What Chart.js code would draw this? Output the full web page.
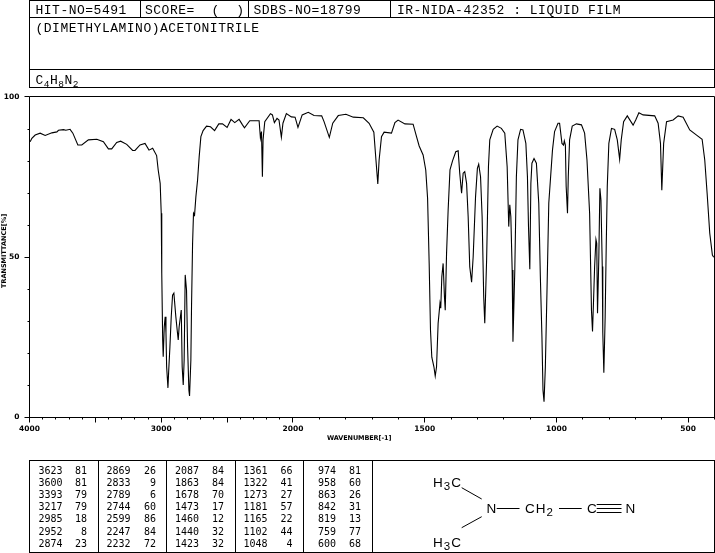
<!DOCTYPE html>
<html>
<head>
<meta charset="utf-8">
<title>IR spectrum</title>
<script src="https://cdn.jsdelivr.net/npm/chart.js@4/dist/chart.umd.min.js"></script>
<style>
  html, body { margin: 0; padding: 0; background: #fff; }
  #wrap { position: relative; width: 715px; height: 553px; overflow: hidden; }
  #spectrum { position: absolute; left: 0; top: 0; }
  #overlay { position: absolute; left: 0; top: 0; pointer-events: none; }
  .frame { fill: none; stroke: #000; stroke-width: 1; shape-rendering: crispEdges; }
  .bond { stroke: #000; stroke-width: 1; }
  .head { font: 13px "Liberation Mono", monospace; letter-spacing: 0.5px; white-space: pre; }
  .num { font: 10px "DejaVu Sans Mono", monospace; text-anchor: end; }
  .axis { font: bold 6.5px "DejaVu Sans", sans-serif; }
  .atom { font: 13.5px "Liberation Sans", sans-serif; letter-spacing: 1px; }
</style>
</head>
<body>
<div id="wrap">
  <canvas id="spectrum" width="715" height="553"></canvas>
  <svg id="overlay" width="715" height="553" xmlns="http://www.w3.org/2000/svg"></svg>
</div>
<script>
/******************************************************************
DATA
******************************************************************/
var wavenumbers = [
  3995, 3982, 3957, 3919, 3881, 3830, 3792, 3780, 3742, 3724, 3692, 3671, 3633, 3603, 3553, 3489,
  3439, 3401, 3376, 3338, 3308, 3262, 3217, 3199, 3161, 3123, 3093, 3065, 3035, 3023, 3008, 3000,
  2997, 2995, 2989, 2985, 2977, 2970, 2964, 2959, 2949, 2944, 2934, 2924, 2914, 2904, 2889, 2879,
  2871, 2864, 2848, 2841, 2833, 2826, 2818, 2808, 2800, 2790, 2785, 2775, 2770, 2762, 2755, 2747,
  2737, 2724, 2712, 2699, 2682, 2656, 2626, 2595, 2563, 2535, 2500, 2470, 2442, 2409, 2383, 2368,
  2328, 2257, 2247, 2239, 2232, 2227, 2214, 2171, 2156, 2141, 2121, 2106, 2088, 2076, 2050, 2012,
  1992, 1981, 1965, 1942, 1920, 1891, 1882, 1862, 1849, 1828, 1799, 1771, 1733, 1711, 1693, 1685,
  1678, 1673, 1664, 1654, 1626, 1613, 1601, 1575, 1544, 1531, 1521, 1506, 1496, 1489, 1483, 1478,
  1473, 1465, 1460, 1455, 1449, 1442, 1439, 1435, 1430, 1425, 1422, 1417, 1411, 1404, 1394, 1382,
  1373, 1367, 1360, 1354, 1348, 1341, 1335, 1329, 1322, 1316, 1307, 1300, 1295, 1288, 1282, 1276,
  1272, 1265, 1258, 1253, 1240, 1225, 1209, 1196, 1187, 1181, 1177, 1173, 1168, 1165, 1158, 1152,
  1146, 1136, 1127, 1116, 1110, 1106, 1101, 1097, 1093, 1085, 1076, 1067, 1061, 1055, 1051, 1047,
  1042, 1036, 1029, 1015, 1007, 994, 988, 979, 973, 970, 966, 963, 958, 955, 950, 940,
  924, 905, 893, 884, 874, 867, 863, 859, 855, 850, 847, 844, 839, 835, 831, 826,
  824, 820, 815, 811, 807, 801, 791, 779, 769, 760, 754, 745, 731, 709, 699, 687,
  671, 627, 614, 605, 600, 593, 582, 557, 538, 519, 494, 468, 447, 437, 428, 418,
  408, 403
];
var transmittance = [
  86.0, 87.1, 88.1, 88.7, 88.0, 88.8, 89.1, 89.6, 89.8, 89.6, 89.9, 88.7, 85.0, 85.0, 86.6, 86.8,
  86.0, 83.8, 83.8, 85.8, 86.2, 85.2, 83.3, 83.3, 85.0, 85.5, 83.4, 84.0, 81.7, 77.2, 73.0, 63.7,
  50.1, 45.0, 24.1, 18.8, 28.2, 31.3, 26.3, 15.7, 9.1, 13.8, 22.0, 31.3, 38.1, 38.7, 31.3, 27.2,
  24.1, 28.2, 33.4, 15.7, 10.0, 17.8, 44.4, 39.7, 22.0, 8.4, 6.6, 17.8, 34.5, 54.3, 63.7, 63.1,
  68.8, 74.1, 81.3, 87.6, 89.5, 90.9, 90.7, 89.5, 91.6, 91.6, 90.5, 93.0, 92.0, 93.0, 91.3, 90.4,
  92.6, 92.6, 87.2, 89.2, 75.1, 86.6, 92.3, 94.8, 94.4, 92.0, 93.3, 92.8, 87.4, 91.8, 94.8, 93.8,
  93.7, 90.5, 94.4, 95.2, 94.2, 94.1, 92.3, 87.4, 91.8, 94.2, 94.6, 93.7, 93.5, 91.8, 89.0, 80.3,
  72.8, 80.3, 87.6, 89.0, 88.7, 92.0, 92.8, 91.6, 91.5, 87.6, 84.7, 81.9, 77.2, 68.3, 48.0, 27.2,
  18.7, 15.7, 12.8, 15.7, 29.3, 35.5, 34.0, 43.8, 48.0, 37.6, 33.4, 51.2, 64.7, 77.2, 80.1, 82.9,
  83.2, 76.2, 69.9, 76.2, 76.7, 73.0, 62.6, 47.0, 42.1, 50.1, 68.8, 77.7, 79.0, 75.1, 62.6, 37.6,
  29.3, 49.0, 78.2, 86.6, 89.9, 90.9, 90.2, 88.7, 78.2, 59.5, 66.3, 62.6, 45.9, 23.5, 45.9, 75.1,
  86.6, 89.9, 89.7, 85.5, 75.1, 59.5, 46.2, 73.0, 79.3, 80.8, 79.3, 66.8, 43.8, 25.1, 8.4, 4.8,
  15.7, 38.7, 66.8, 83.4, 89.2, 91.8, 91.8, 85.5, 85.0, 86.3, 85.0, 72.0, 63.7, 75.1, 86.6, 90.9,
  91.6, 91.3, 88.7, 80.3, 63.7, 33.4, 26.7, 36.6, 47.0, 55.5, 54.3, 32.4, 50.1, 71.5, 67.8, 47.0,
  26.3, 13.8, 31.3, 53.2, 72.0, 85.5, 90.2, 89.9, 86.6, 80.5, 86.6, 92.3, 94.1, 91.2, 92.8, 95.1,
  94.4, 94.1, 91.8, 85.5, 70.9, 85.5, 92.3, 92.8, 94.1, 93.7, 89.7, 88.1, 86.8, 80.3, 69.9, 57.4,
  50.6, 49.9
];

var xMajorTicks = [4000, 3500, 3000, 2500, 2000, 1500, 1000, 500];
var xLabelled = [4000, 3000, 2000, 1500, 1000, 500];
var yLabelled = [0, 50, 100];

var headerTexts = ["HIT-NO=5491", "SCORE=  (  )", "SDBS-NO=18799", "IR-NIDA-42352 : LIQUID FILM"];
var compoundName = "(DIMETHYLAMINO)ACETONITRILE";

var peakWaves = [
  3623, 3600, 3393, 3217, 2985, 2952, 2874,
  2869, 2833, 2789, 2744, 2599, 2247, 2232,
  2087, 1863, 1678, 1473, 1460, 1440, 1423,
  1361, 1322, 1273, 1181, 1165, 1102, 1048,
  974, 958, 863, 842, 819, 759, 600
];
var peakValues = [
  81, 81, 79, 79, 18, 8, 23,
  26, 9, 6, 60, 86, 84, 72,
  84, 84, 70, 17, 12, 32, 32,
  66, 41, 27, 57, 22, 44, 4,
  81, 60, 26, 31, 13, 77, 68
];

/******************************************************************
WAVENUMBER SCALE - 2000 TO 400 IS DRAWN AT TWICE THE WIDTH
******************************************************************/
class WaveScale extends Chart.LinearScale {
  getPixelForValue(value) {
    var u = value >= 2000 ? 4000 - value : 2000 + (2000 - value) * 2;
    return this.left + (u / 5200) * this.width;
  }
  getValueForPixel(pixel) {
    var u = (pixel - this.left) / this.width * 5200;
    return u <= 2000 ? 4000 - u : 2000 - (u - 2000) / 2;
  }
}
WaveScale.id = "wave";
WaveScale.defaults = Chart.LinearScale.defaults;
Chart.register(WaveScale);

// ticks differ in length, so they are drawn here instead of by the grid
var tickMarks = {
  id: "tickMarks",
  afterDraw: function (chart) {
    var ctx = chart.ctx;
    var a = chart.chartArea;
    var x = chart.scales.x;
    var y = chart.scales.y;
    ctx.save();
    ctx.strokeStyle = "#000";
    ctx.lineWidth = 1;
    ctx.beginPath();
    ctx.rect(a.left, a.top - 0.5, a.right - a.left, a.bottom - a.top + 1);
    x.ticks.forEach(function (t) {
      var px = Math.floor(x.getPixelForValue(t.value)) + 0.5;
      var len = xMajorTicks.indexOf(t.value) >= 0 ? 5 : 2;
      ctx.moveTo(px, a.bottom);
      ctx.lineTo(px, a.bottom + 0.5 + len);
    });
    y.ticks.forEach(function (t) {
      var py = Math.round(y.getPixelForValue(t.value)) + (t.value === 100 ? -0.5 : 0.5);
      var len = yLabelled.indexOf(t.value) >= 0 ? 5 : 2;
      ctx.moveTo(a.left, py);
      ctx.lineTo(a.left - len, py);
    });
    ctx.stroke();
    ctx.restore();
  }
};

var points = [];
for (var i = 0; i < wavenumbers.length; i++) {
  points.push({ x: wavenumbers[i], y: transmittance[i] });
}

var tickFont = { family: "DejaVu Sans", size: 7.5, weight: "bold" };

new Chart(document.getElementById("spectrum"), {
  type: "line",
  data: {
    datasets: [{
      data: points,
      borderColor: "#000",
      borderWidth: 1.1,
      pointRadius: 0,
      tension: 0,
      fill: false
    }]
  },
  plugins: [tickMarks],
  options: {
    responsive: false,
    animation: false,
    layout: { padding: { top: 97, right: 0.5, bottom: 0, left: 0 } },
    plugins: { legend: { display: false }, tooltip: { enabled: false } },
    scales: {
      x: {
        type: "wave",
        min: 400,
        max: 4000,
        afterBuildTicks: function (scale) {
          var list = [];
          for (var v = 4000; v >= 400; v -= 100) list.push({ value: v });
          scale.ticks = list;
        },
        afterFit: function (scale) {
          scale.height = 136;
          scale.paddingLeft = 0;
          scale.paddingRight = 0;
        },
        grid: { display: false, drawTicks: false },
        border: { display: false },
        ticks: {
          autoSkip: false,
          maxRotation: 0,
          padding: 8,
          color: "#000",
          font: tickFont,
          callback: function (value) {
            return xLabelled.indexOf(value) >= 0 ? String(value) : "";
          }
        }
      },
      y: {
        min: 0,
        max: 100,
        afterFit: function (scale) {
          scale.width = 29.5;
          scale.paddingTop = 0;
          scale.paddingBottom = 0;
        },
        grid: { display: false, drawTicks: false },
        border: { display: false },
        ticks: {
          stepSize: 10,
          autoSkip: false,
          padding: 10,
          color: "#000",
          font: tickFont,
          callback: function (value) {
            return yLabelled.indexOf(value) >= 0 ? String(value) : "";
          }
        }
      }
    }
  }
});

/******************************************************************
HEADER, PEAK TABLE AND STRUCTURE
******************************************************************/
var svg = document.getElementById("overlay");
var NS = "http://www.w3.org/2000/svg";

function el(name, attrs, text) {
  var n = document.createElementNS(NS, name);
  for (var k in attrs) n.setAttribute(k, attrs[k]);
  if (text !== undefined) n.textContent = text;
  svg.appendChild(n);
  return n;
}

function frameLine(x1, y1, x2, y2) {
  el("line", { x1: x1, y1: y1, x2: x2, y2: y2, "class": "frame" });
}

function bond(x1, y1, x2, y2) {
  el("line", { x1: x1, y1: y1, x2: x2, y2: y2, "class": "bond" });
}

// text with subscripts: parts are [string, isSub]
function subText(x, y, parts, cls, size) {
  var t = el("text", { x: x, y: y, "class": cls });
  parts.forEach(function (p) {
    var s = document.createElementNS(NS, "tspan");
    s.textContent = p[0];
    if (p[1]) {
      s.setAttribute("font-size", size);
      s.setAttribute("dy", "3");
    } else if (t.childNodes.length) {
      s.setAttribute("dy", "-3");
    }
    t.appendChild(s);
  });
}

// header block
el("rect", { x: 29.5, y: 0.5, width: 685, height: 87, "class": "frame" });
frameLine(29.5, 17.5, 714.5, 17.5);
frameLine(29.5, 69.5, 714.5, 69.5);
frameLine(140.5, 0, 140.5, 17.5);
frameLine(248.5, 0, 248.5, 17.5);
frameLine(390.5, 0, 390.5, 17.5);
el("text", { x: 35.5, y: 14, "class": "head" }, headerTexts[0]);
el("text", { x: 145, y: 14, "class": "head" }, headerTexts[1]);
el("text", { x: 253.5, y: 14, "class": "head" }, headerTexts[2]);
el("text", { x: 397, y: 14, "class": "head" }, headerTexts[3]);
el("text", { x: 35.5, y: 31.5, "class": "head" }, compoundName);
subText(35.5, 83.5, [["C", false], ["4", true], ["H", false], ["8", true], ["N", false], ["2", true]], "head", "9.5px");

// axis titles
el("text", { x: 327, y: 439.5, "class": "axis", style: "letter-spacing:-0.1px" }, "WAVENUMBER[-1]");
el("text", { x: 0, y: 0, "class": "axis", transform: "translate(6,288) rotate(-90)" }, "TRANSMITTANCE[%]");

// peak table
el("rect", { x: 29.5, y: 460.5, width: 685, height: 92, "class": "frame" });
var colLines = [98.5, 166.5, 235.5, 303.5, 372.5];
colLines.forEach(function (x) { frameLine(x, 460.5, x, 552.5); });

var waveRight = [62.5, 130.5, 199, 267.5, 336];
var valueRight = [87, 156, 224, 292.5, 361];
for (var p = 0; p < peakWaves.length; p++) {
  var col = Math.floor(p / 7);
  var row = p % 7;
  var base = 473.5 + row * 12.2;
  el("text", { x: waveRight[col], y: base, "class": "num" }, String(peakWaves[p]));
  el("text", { x: valueRight[col], y: base, "class": "num" }, String(peakValues[p]));
}

// structure
subText(433, 487, [["H", false], ["3", true], ["C", false]], "atom", "11.5px");
subText(433, 546.5, [["H", false], ["3", true], ["C", false]], "atom", "11.5px");
el("text", { x: 486.5, y: 513, "class": "atom" }, "N");
subText(525, 513, [["CH", false], ["2", true]], "atom", "11.5px");
el("text", { x: 587, y: 513, "class": "atom" }, "C");
el("text", { x: 625.5, y: 513, "class": "atom" }, "N");
bond(461.7, 487.7, 481.7, 499);
bond(461.7, 527.7, 481.7, 516.7);
bond(496.7, 508.5, 519.5, 508.5);
bond(559, 508.5, 581.7, 508.5);
bond(596.7, 504.5, 621.5, 504.5);
bond(596.7, 508.5, 621.5, 508.5);
bond(596.7, 512.5, 621.5, 512.5);
</script>
</body>
</html>
